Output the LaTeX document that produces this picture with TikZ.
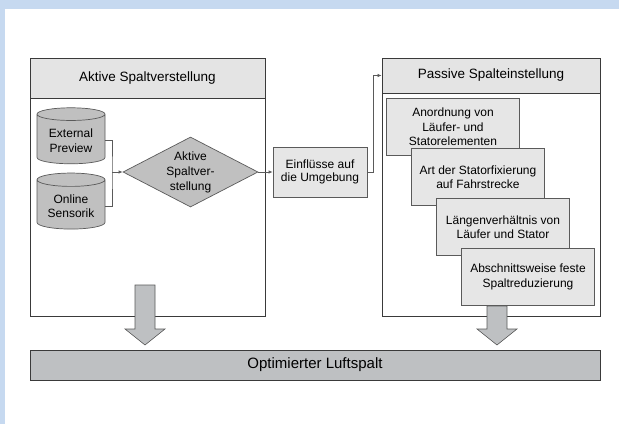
\documentclass[tikz,border=0pt]{standalone}
\usepackage{fontspec}
\setmainfont{Liberation Sans}
\usetikzlibrary{shapes.geometric, arrows.meta, positioning, calc, shadows}
\definecolor{bgblue}{HTML}{C6D9F0}
\definecolor{headgray}{HTML}{E4E4E4}
\definecolor{boxgray}{HTML}{E6E6E6}
\definecolor{midgray}{HTML}{C0C0C0}
\definecolor{bargray}{HTML}{BEC0C2}
\definecolor{linegray}{HTML}{3A3A3A}
\definecolor{thingray}{HTML}{5A5A5A}

\begin{document}
\begin{tikzpicture}[x=1pt, y=-1pt,
  panel/.style={
    rectangle,
    draw=linegray,
    line width=0.9pt,
    fill=white,
    drop shadow={shadow xshift=1.2pt, shadow yshift=-1.2pt, fill=linegray, opacity=1}
  },
  panelhead/.style={
    rectangle,
    draw=linegray,
    line width=0.8pt,
    fill=headgray,
    font=\fontsize{13.5}{15}\selectfont
  },
  speicher/.style={
    cylinder,
    shape border rotate=90,
    aspect=0.25,
    draw=thingray,
    line width=0.7pt,
    fill=midgray,
    minimum width=68pt,
    minimum height=56pt,
    align=center,
    font=\fontsize{12}{14.5}\selectfont
  },
  stufe/.style={
    rectangle,
    draw=thingray,
    line width=0.7pt,
    fill=boxgray,
    minimum width=133pt,
    minimum height=57pt,
    align=center,
    font=\fontsize{12}{14.5}\selectfont
  },
  conn/.style={thingray, line width=0.7pt},
  arr/.style={conn, -{Latex[length=4pt,width=3.5pt]}},
  bigarrow/.style={draw=thingray, line width=0.6pt, fill=bargray}
]
  \useasboundingbox (0,0) rectangle (619,424);
  \fill[bgblue] (0,0) rectangle (619,424);
  \fill[white] (5,9) rectangle (619,424);

  % Left panel
  \node[panel, minimum width=235pt, minimum height=258pt] (aktiv) at (147.5,187) {};
  \node[panelhead, minimum width=235pt, minimum height=40pt, anchor=north] (aktivkopf) at (aktiv.north) {Aktive Spaltverstellung};

  \node[speicher] (extprev) at (71,140.5) {External\\Preview};
  \node[speicher] (onsens) at (71,206) {Online\\Sensorik};

  \node[diamond, draw=thingray, line width=0.7pt, fill=midgray, aspect=1.93,
        minimum width=135pt, minimum height=70pt, inner sep=0pt, align=center,
        font=\fontsize{12}{15}\selectfont] (spalt) at (190.5,172) {Aktive\\Spaltver-\\stellung};

  % Right panel
  \node[panel, minimum width=218pt, minimum height=258pt] (passiv) at (491,187) {};
  \node[panelhead, minimum width=218pt, minimum height=35pt, anchor=north] (passivkopf) at (passiv.north) {Passive Spalteinstellung};

  \node[stufe] (anord) at (453,127) {Anordnung von\\Läufer- und\\Statorelementen};
  \node[stufe] (fixier) at (478,177) {Art der Statorfixierung\\auf Fahrstrecke};
  \node[stufe] (laenge) at (503,227) {Längenverhältnis von\\Läufer und Stator};
  \node[stufe] (abschn) at (528,277) {Abschnittsweise feste\\Spaltreduzierung};

  % Middle box
  \node[stufe, minimum width=94pt, minimum height=50pt, font=\fontsize{12}{13.5}\selectfont] (einfl) at (320,172) {Einflüsse auf\\die Umgebung};

  % Result bar
  \node[rectangle, draw=linegray, line width=0.9pt, fill=bargray,
        minimum width=570pt, minimum height=30pt,
        drop shadow={shadow xshift=1.2pt, shadow yshift=-1.2pt, fill=linegray, opacity=1},
        font=\fontsize{15}{17}\selectfont] (luft) at (315,365) {Optimierter Luftspalt};

  % Connectors
  \coordinate (knoten) at (112,172);
  \draw[conn] (extprev.east) -| (knoten) |- (onsens.east);
  \draw[arr] (knoten) -- (spalt.west);
  \draw[arr] (spalt.east) -- (einfl.west);
  \draw[arr] (einfl.east) -- ++(6,0) |- (passivkopf.west);

  % Block arrows down to the bar
  \coordinate (pfeilA) at (135,285);
  \coordinate (pfeilB) at (487,306);
  \draw[bigarrow] (pfeilA) -- ++(20,0) -- ++(0,44) -- ++(10,0) -- ++(-20,16)
    -- ++(-20,-16) -- ++(10,0) -- cycle;
  \draw[bigarrow] (pfeilB) -- ++(20,0) -- ++(0,23) -- ++(10,0) -- ++(-20,16)
    -- ++(-20,-16) -- ++(10,0) -- cycle;
\end{tikzpicture}
\end{document}
